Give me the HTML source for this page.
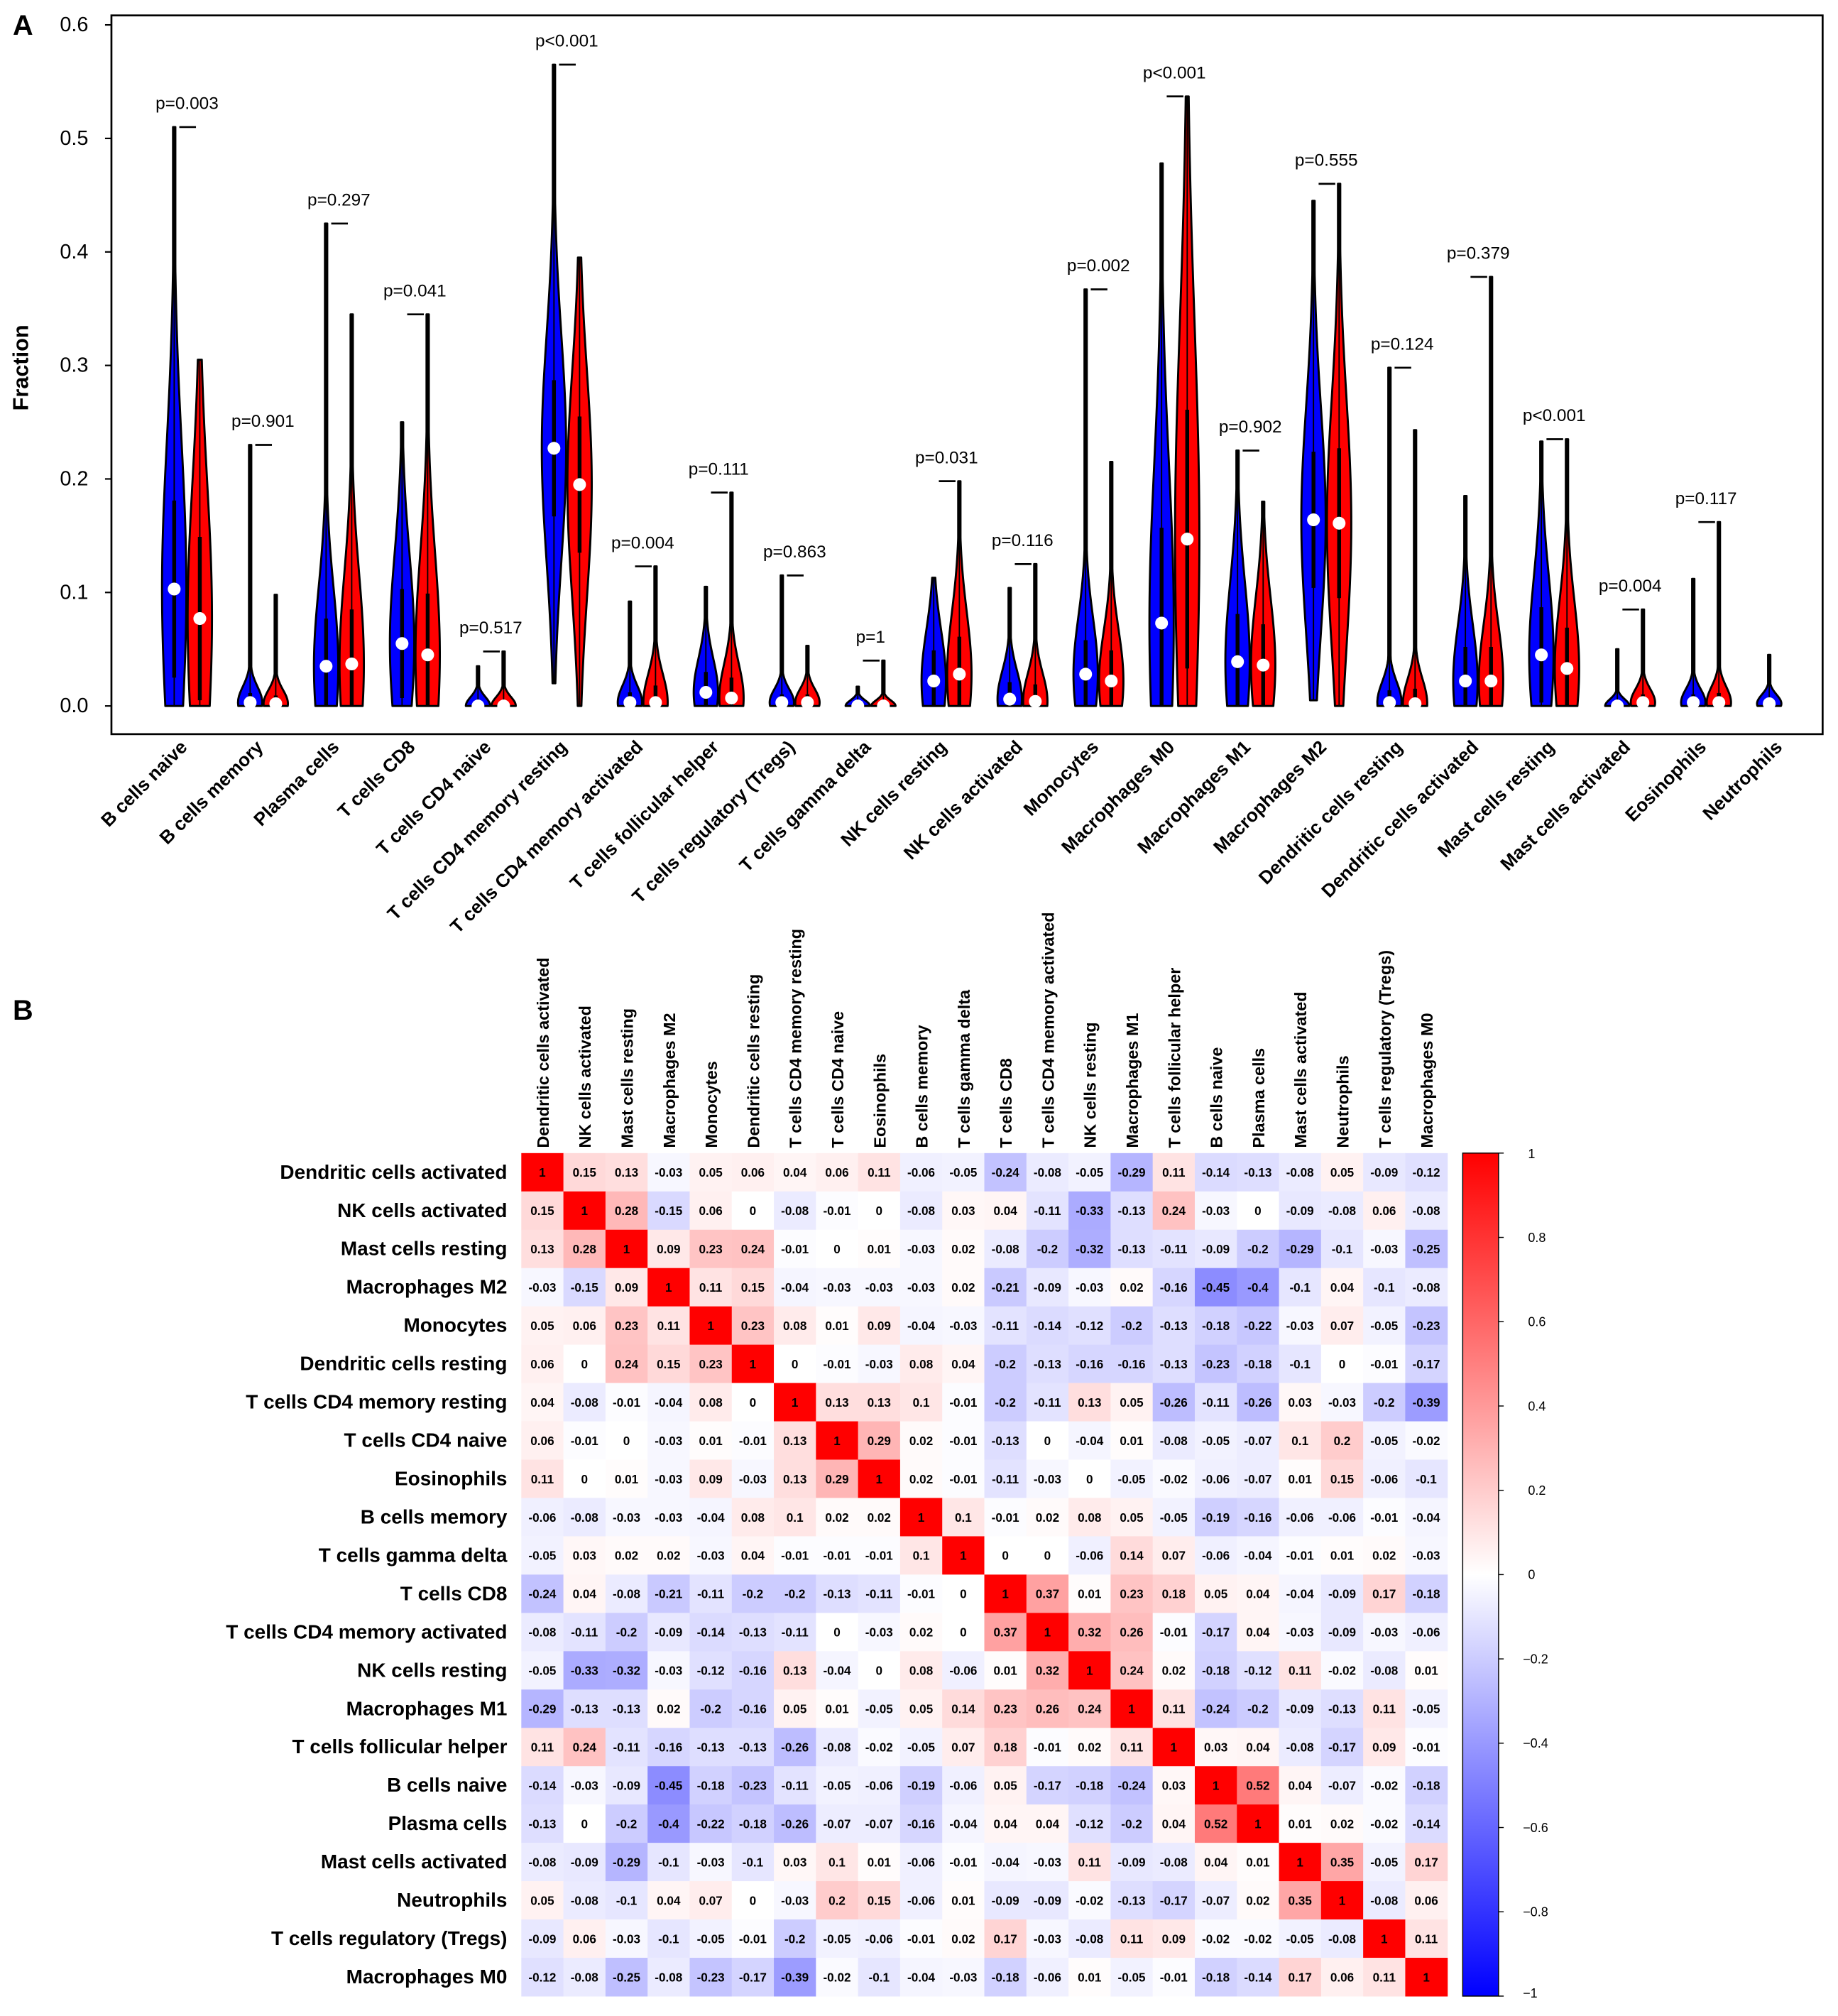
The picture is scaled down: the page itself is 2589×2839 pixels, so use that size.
<!DOCTYPE html>
<html><head><meta charset="utf-8"><style>
html,body{margin:0;padding:0;background:#fff}
svg{display:block}
text{font-family:"Liberation Sans",Arial,sans-serif}
</style></head><body>
<svg id="fig" xmlns="http://www.w3.org/2000/svg" width="2589" height="2839" viewBox="0 0 1435 1573.5">
<rect width="1435" height="1573.5" fill="#fff"/>
<text x="10" y="27" font-size="22" font-weight="bold">A</text>
<text x="10" y="796" font-size="22" font-weight="bold">B</text>
<g id="violin"></g>
<g id="heat"></g>
</svg>
<script>
const NS="http://www.w3.org/2000/svg";
const cells=["B cells naive","B cells memory","Plasma cells","T cells CD8","T cells CD4 naive","T cells CD4 memory resting","T cells CD4 memory activated","T cells follicular helper","T cells regulatory (Tregs)","T cells gamma delta","NK cells resting","NK cells activated","Monocytes","Macrophages M0","Macrophages M1","Macrophages M2","Dendritic cells resting","Dendritic cells activated","Mast cells resting","Mast cells activated","Eosinophils","Neutrophils"];
const blueMax=[0.51,0.23,0.425,0.25,0.035,0.565,0.092,0.105,0.115,0.017,0.113,0.104,0.367,0.478,0.225,0.445,0.298,0.185,0.233,0.05,0.112,0.045];
const blueMin=[0,0,0,0,0,0.02,0,0,0,0,0,0,0,0,0,0.005,0,0,0,0,0,0];
const blueMed=[0.103,0.003,0.035,0.055,0,0.227,0.003,0.012,0.003,0,0.022,0.006,0.028,0.073,0.039,0.164,0.003,0.022,0.045,0,0.003,0.002];
const blueSpread=[0.13,0.014,0.07,0.08,0.008,0.1,0.015,0.03,0.012,0.005,0.045,0.025,0.05,0.14,0.07,0.1,0.018,0.05,0.07,0.006,0.012,0.008];
const redMax=[0.305,0.098,0.345,0.345,0.048,0.395,0.123,0.188,0.053,0.04,0.198,0.125,0.215,0.537,0.18,0.46,0.243,0.378,0.235,0.085,0.162,null];
const redMin=[0,0,0,0,0,0,0,0,0,0,0,0,0,0,0,0,0,0,0,0,0,null];
const redMed=[0.077,0.002,0.037,0.045,0,0.195,0.003,0.007,0.003,0,0.028,0.004,0.022,0.147,0.036,0.161,0.002,0.022,0.033,0.003,0.003,null];
const redSpread=[0.12,0.012,0.08,0.09,0.008,0.1,0.025,0.03,0.012,0.005,0.055,0.025,0.045,0.19,0.06,0.11,0.022,0.05,0.06,0.012,0.014,null];
const pLabels=["p=0.003","p=0.901","p=0.297","p=0.041","p=0.517","p<0.001","p=0.004","p=0.111","p=0.863","p=1","p=0.031","p=0.116","p=0.002","p<0.001","p=0.902","p=0.555","p=0.124","p=0.379","p<0.001","p=0.004","p=0.117",null];
const yTicks=[0,0.1,0.2,0.3,0.4,0.5,0.6];

function el(tag,attrs,parent,txt){const e=document.createElementNS(NS,tag);for(const k in attrs)e.setAttribute(k,attrs[k]);if(txt!=null)e.textContent=txt;parent.appendChild(e);return e;}
const V=document.getElementById('violin');
const yS=v=>551-v*886;
const xS=i=>146+i*59.3;
const fr=el('rect',{x:87,y:12,width:1336,height:561,fill:'none',stroke:'#000','stroke-width':1.5},V);


yTicks.forEach(t=>{
  const l=el('line',{x1:82,x2:87,y1:yS(t),y2:yS(t),stroke:'#000','stroke-width':1.2},V);
  
  
  const tx=el('text',{x:69,y:yS(t)+5,'font-size':16,'text-anchor':'end'},V,t.toFixed(1));
  
  
});
const yt=el('text',{x:22,y:287,'font-size':17,'font-weight':'bold','text-anchor':'middle',transform:'rotate(-90 22 287)'},V,'Fraction');



function violin(cx,mn,mx,med,s,color,name){
  const W=9.5,N=80,L=[],R=[];
  for(let k=0;k<=N;k++){
    const v=mn+(mx-mn)*k/N;
    const w=Math.max(0.9,W*Math.exp(-Math.pow((v-med)/s,2)/2));
    L.push([cx-w,yS(v)]);R.push([cx+w,yS(v)]);
  }
  const pts=L.concat(R.reverse());
  const p=el('path',{d:'M'+pts.map(q=>q[0].toFixed(2)+','+q[1].toFixed(2)).join('L')+'Z',fill:color,stroke:'#000','stroke-width':1.6,'stroke-linejoin':'round'},V);
  
  
  el('line',{x1:cx,x2:cx,y1:yS(mn),y2:yS(mx),stroke:'#000','stroke-width':1},V);
  el('line',{x1:cx,x2:cx,y1:yS(Math.max(mn,med-s*0.6)),y2:yS(Math.min(mx,med+s*0.6)),stroke:'#000','stroke-width':3},V);
  const d=el('circle',{cx:cx,cy:yS(med),r:5,fill:'#fff'},V);
  
  
}
cells.forEach((c,i)=>{
  const cx=xS(i);
  violin(cx-10,blueMin[i],blueMax[i],blueMed[i],blueSpread[i],'#0000ff','violin-normal');
  if(redMax[i]!=null) violin(cx+10,redMin[i],redMax[i],redMed[i],redSpread[i],'#ff0000','violin-tumor');
  if(pLabels[i]){
    const top=Math.max(blueMax[i],redMax[i]);
    const b=el('line',{x1:cx-6,x2:cx+7,y1:yS(top),y2:yS(top),stroke:'#000','stroke-width':1.5},V);
    
    
    const pt=el('text',{x:cx,y:yS(top)-14,'font-size':13.5,'text-anchor':'middle'},V,pLabels[i]);
    
    
  }
  const xl=el('text',{x:cx+1,y:584,'font-size':14.5,'font-weight':'bold','text-anchor':'end',transform:`rotate(-45 ${cx+1} 584)`},V,c);
  
  
});

const hLabels=["Dendritic cells activated","NK cells activated","Mast cells resting","Macrophages M2","Monocytes","Dendritic cells resting","T cells CD4 memory resting","T cells CD4 naive","Eosinophils","B cells memory","T cells gamma delta","T cells CD8","T cells CD4 memory activated","NK cells resting","Macrophages M1","T cells follicular helper","B cells naive","Plasma cells","Mast cells activated","Neutrophils","T cells regulatory (Tregs)","Macrophages M0"];
const r01=[1,.15,.13,-.03,.05,.06,.04,.06,.11,-.06,-.05,-.24,-.08,-.05,-.29,.11,-.14,-.13,-.08,.05,-.09,-.12];
const r02=[.15,1,.28,-.15,.06,0,-.08,-.01,0,-.08,.03,.04,-.11,-.33,-.13,.24,-.03,0,-.09,-.08,.06,-.08];
const r03=[.13,.28,1,.09,.23,.24,-.01,0,.01,-.03,.02,-.08,-.2,-.32,-.13,-.11,-.09,-.2,-.29,-.1,-.03,-.25];
const r04=[-.03,-.15,.09,1,.11,.15,-.04,-.03,-.03,-.03,.02,-.21,-.09,-.03,.02,-.16,-.45,-.4,-.1,.04,-.1,-.08];
const r05=[.05,.06,.23,.11,1,.23,.08,.01,.09,-.04,-.03,-.11,-.14,-.12,-.2,-.13,-.18,-.22,-.03,.07,-.05,-.23];
const r06=[.06,0,.24,.15,.23,1,0,-.01,-.03,.08,.04,-.2,-.13,-.16,-.16,-.13,-.23,-.18,-.1,0,-.01,-.17];
const r07=[.04,-.08,-.01,-.04,.08,0,1,.13,.13,.1,-.01,-.2,-.11,.13,.05,-.26,-.11,-.26,.03,-.03,-.2,-.39];
const r08=[.06,-.01,0,-.03,.01,-.01,.13,1,.29,.02,-.01,-.13,0,-.04,.01,-.08,-.05,-.07,.1,.2,-.05,-.02];
const r09=[.11,0,.01,-.03,.09,-.03,.13,.29,1,.02,-.01,-.11,-.03,0,-.05,-.02,-.06,-.07,.01,.15,-.06,-.1];
const r10=[-.06,-.08,-.03,-.03,-.04,.08,.1,.02,.02,1,.1,-.01,.02,.08,.05,-.05,-.19,-.16,-.06,-.06,-.01,-.04];
const r11=[-.05,.03,.02,.02,-.03,.04,-.01,-.01,-.01,.1,1,0,0,-.06,.14,.07,-.06,-.04,-.01,.01,.02,-.03];
const r12=[-.24,.04,-.08,-.21,-.11,-.2,-.2,-.13,-.11,-.01,0,1,.37,.01,.23,.18,.05,.04,-.04,-.09,.17,-.18];
const r13=[-.08,-.11,-.2,-.09,-.14,-.13,-.11,0,-.03,.02,0,.37,1,.32,.26,-.01,-.17,.04,-.03,-.09,-.03,-.06];
const r14=[-.05,-.33,-.32,-.03,-.12,-.16,.13,-.04,0,.08,-.06,.01,.32,1,.24,.02,-.18,-.12,.11,-.02,-.08,.01];
const r15=[-.29,-.13,-.13,.02,-.2,-.16,.05,.01,-.05,.05,.14,.23,.26,.24,1,.11,-.24,-.2,-.09,-.13,.11,-.05];
const r16=[.11,.24,-.11,-.16,-.13,-.13,-.26,-.08,-.02,-.05,.07,.18,-.01,.02,.11,1,.03,.04,-.08,-.17,.09,-.01];
const r17=[-.14,-.03,-.09,-.45,-.18,-.23,-.11,-.05,-.06,-.19,-.06,.05,-.17,-.18,-.24,.03,1,.52,.04,-.07,-.02,-.18];
const r18=[-.13,0,-.2,-.4,-.22,-.18,-.26,-.07,-.07,-.16,-.04,.04,.04,-.12,-.2,.04,.52,1,.01,.02,-.02,-.14];
const r19=[-.08,-.09,-.29,-.1,-.03,-.1,.03,.1,.01,-.06,-.01,-.04,-.03,.11,-.09,-.08,.04,.01,1,.35,-.05,.17];
const r20=[.05,-.08,-.1,.04,.07,0,-.03,.2,.15,-.06,.01,-.09,-.09,-.02,-.13,-.17,-.07,.02,.35,1,-.08,.06];
const r21=[-.09,.06,-.03,-.1,-.05,-.01,-.2,-.05,-.06,-.01,.02,.17,-.03,-.08,.11,.09,-.02,-.02,-.05,-.08,1,.11];
const r22=[-.12,-.08,-.25,-.08,-.23,-.17,-.39,-.02,-.1,-.04,-.03,-.18,-.06,.01,-.05,-.01,-.18,-.14,.17,.06,.11,1];
const corr=[r01,r02,r03,r04,r05,r06,r07,r08,r09,r10,r11,r12,r13,r14,r15,r16,r17,r18,r19,r20,r21,r22];
const cbTicks=[1,0.8,0.6,0.4,0.2,0,-0.2,-0.4,-0.6,-0.8,-1];

const H=document.getElementById('heat');
const X0=407,X1=1130,Y0=900,Y1=1558,n=hLabels.length;
const cw=(X1-X0)/n,rh=(Y1-Y0)/n;
function col(v){
  if(v>=0){const t=Math.round(255*(1-v));return `rgb(255,${t},${t})`;}
  const t=Math.round(255*(1+v));return `rgb(${t},${t},255)`;
}
const fmt=v=>String(v);
corr.forEach((row,i)=>{
  row.forEach((v,j)=>{
    const r=el('rect',{x:X0+j*cw,y:Y0+i*rh,width:cw+0.3,height:rh+0.3,fill:col(v)},H);
    
    
    const t=el('text',{x:X0+j*cw+cw/2,y:Y0+i*rh+rh/2+3.5,'font-size':9.5,'font-weight':'bold','text-anchor':'middle'},H,fmt(v));
    
    
  });
});
hLabels.forEach((lab,i)=>{
  const t=el('text',{x:396,y:Y0+i*rh+rh/2+5,'font-size':15.5,'font-weight':'bold','text-anchor':'end'},H,lab);
  
  
  const cx=X0+i*cw+cw/2+5;
  const c=el('text',{x:cx,y:896,'font-size':13,'font-weight':'bold','text-anchor':'start',transform:`rotate(-90 ${cx} 896)`},H,lab);
  
  
});
const defs=el('defs',{},H);
const g=el('linearGradient',{id:'cb',x1:0,y1:0,x2:0,y2:1},defs);
el('stop',{offset:'0','stop-color':'#ff0000'},g);
el('stop',{offset:'0.5','stop-color':'#ffffff'},g);
el('stop',{offset:'1','stop-color':'#0000ff'},g);
const cb=el('rect',{x:1142,y:Y0,width:28,height:Y1-Y0,fill:'url(#cb)',stroke:'#000','stroke-width':0.8},H);


const cbY=v=>Y0+(1-v)/2*(Y1-Y0);
cbTicks.forEach(v=>{
  el('line',{x1:1170,x2:1174,y1:cbY(v),y2:cbY(v),stroke:'#000','stroke-width':0.8},H);
  const t=el('text',{x:v<0?1189:1193,y:cbY(v)+(v===1?4:v===-1?1:3.5),'font-size':10,'text-anchor':'start'},H,v===0?'0':(v<0?'\u2212':'')+String(Math.abs(v)));
  
  
});
</script>
</body></html>
